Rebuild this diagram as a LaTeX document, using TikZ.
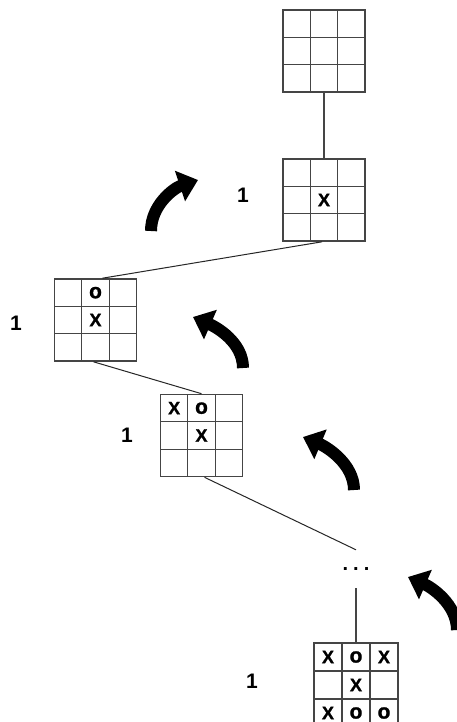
\documentclass[tikz,border=0pt]{standalone}
\usepackage{fontspec}
\setmainfont{Liberation Sans}
\newfontfamily\markfont[FakeBold=1.2]{Liberation Sans Bold}
\usetikzlibrary{arrows.meta,calc}
\definecolor{gridgray}{HTML}{454545}

% one mark (X or o) in cell (col,row) of a board node; #1 is the cell size
\newcommand\putmark[5][27.33]{%
  \node[cellmark] (#2-#3#4) at ($(#2.center)+({(#3-2)*#1},{(#4-2)*#1})$) {#5};}
% the o mark is set a little larger so its ring matches the X
\newcommand\omark{{\fontsize{21}{22}\selectfont o}}

\begin{document}
\begin{tikzpicture}[x=1pt,y=-1pt,
  board/.style={draw=gridgray, line width=1.6pt, minimum size=82pt, inner sep=0pt,
    path picture={
      \foreach \f in {1,2}{
        \draw[gridgray, line width=1.1pt]
          ($(path picture bounding box.north west)!\f/3!(path picture bounding box.north east)$) --
          ($(path picture bounding box.south west)!\f/3!(path picture bounding box.south east)$);
        \draw[gridgray, line width=1.1pt]
          ($(path picture bounding box.north west)!\f/3!(path picture bounding box.south west)$) --
          ($(path picture bounding box.north east)!\f/3!(path picture bounding box.south east)$);
      }}},
  cellmark/.style={inner sep=0pt, font=\markfont\fontsize{18}{20}\selectfont},
  value/.style={inner sep=0pt, font=\fontsize{21}{24}\selectfont\bfseries},
  link/.style={draw=black!85, line width=1pt},
  bigarrow/.style={line width=12pt, line cap=butt, -{Triangle[length=19pt,width=31pt]}}
]
\useasboundingbox (0,0) rectangle (457,722);
\fill[white] (0,0) rectangle (457,722);
\clip (0,0) rectangle (457,722);

% boards along the game path
\node[board] (g1) at (324,51) {};
\node[board] (g2) at (324,200) {};
\node[board] (g3) at (95.5,320) {};
\node[board] (g4) at (201.5,435.5) {};
\node[board, minimum size=84pt] (g5) at (356,685) {};

\putmark{g2}{2}{2}{X}
\putmark{g3}{2}{1}{\omark}
\putmark{g3}{2}{2}{X}
\putmark{g4}{1}{1}{X}
\putmark{g4}{2}{1}{\omark}
\putmark{g4}{2}{2}{X}
\putmark[28]{g5}{1}{1}{X}
\putmark[28]{g5}{2}{1}{\omark}
\putmark[28]{g5}{3}{1}{X}
\putmark[28]{g5}{2}{2}{X}
\putmark[28]{g5}{1}{3}{X}
\putmark[28]{g5}{2}{3}{\omark}
\putmark[28]{g5}{3}{3}{\omark}

% elided moves
\node[inner sep=0pt, minimum height=38pt, font=\fontsize{20}{24}\selectfont\bfseries] (dots) at (356,569) {.\hspace{5pt}.\hspace{5pt}.};

% values backed up to each board
\node[value] (v2) at (243,195) {1};
\node[value] (v3) at (16,323) {1};
\node[value] (v4) at (127,435) {1};
\node[value] (v5) at (252,681) {1};

% tree edges
\draw[link, draw=gridgray, line width=1.4pt] (g1.south) -- (g2.north);
\draw[link] ([xshift=-2pt]g2.south) -- ([xshift=7pt]g3.north);
\draw[link] ([xshift=-2pt]g3.south) -- (g4.north);
\draw[link] ([xshift=3pt]g4.south) -- (dots.north);
\draw[link, draw=gridgray, line width=1.4pt] (dots.south) -- (g5.north);

% arrows showing the value moving up the tree
\draw[bigarrow] (151,231) .. controls (151,205) and (174,188) .. (198,180);
\draw[bigarrow] (243,368) .. controls (243,342) and (216,327) .. (193,317);
\draw[bigarrow] (354,490) .. controls (354,464) and (327,447) .. (303,437);
\draw[bigarrow] (457,630) .. controls (457,604) and (431,587) .. (408,577);
\end{tikzpicture}
\end{document}
